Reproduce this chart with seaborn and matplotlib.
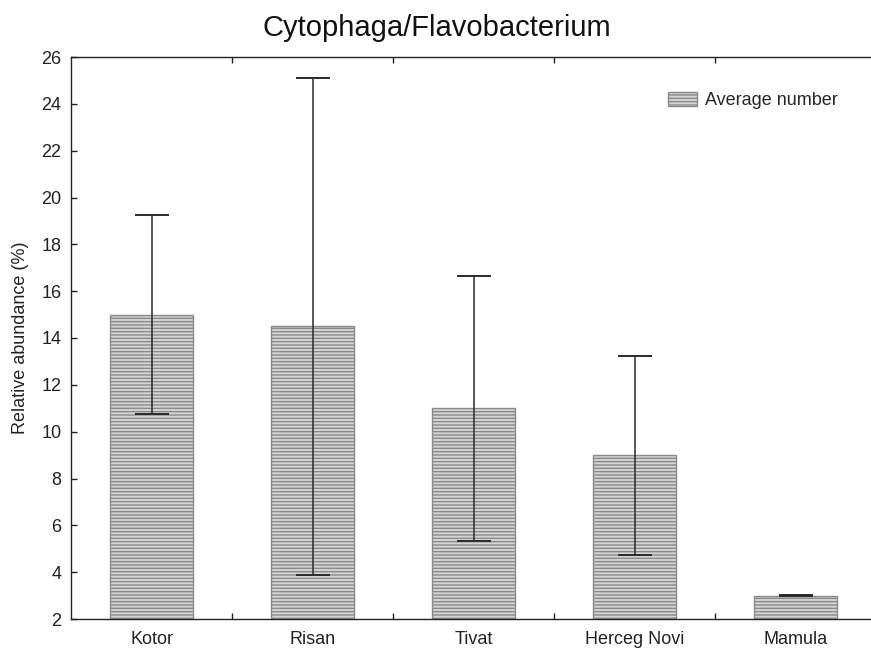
import matplotlib
matplotlib.use("Agg")
import matplotlib.pyplot as plt
import seaborn as sns
import pandas as pd
import numpy as np
from matplotlib.patches import Patch

sites = ["Kotor", "Risan", "Tivat", "Herceg Novi", "Mamula"]
means = [15.0, 14.5, 11.0, 9.0, 3.0]
errors = [4.25, 10.6, 5.65, 4.25, 0.02]
yticks = [2, 4, 6, 8, 10, 12, 14, 16, 18, 20, 22, 24, 26]

sns.set_theme(style="white")
plt.rcParams['font.family'] = ['Liberation Sans', 'DejaVu Sans']
plt.rcParams['hatch.linewidth'] = 1.0

df = pd.DataFrame({"site": sites, "mean": means, "err": errors})

fig = plt.figure(figsize=(8.71, 6.48), dpi=100)
ax = fig.add_axes([71/871, 29/648, 805/871, 562/648])

sns.barplot(data=df, x="site", y="mean", ax=ax, color="#d4d4d4", width=0.51,
            errorbar=None, edgecolor="#8a8a8a", linewidth=1.0, hatch="-----")
for p in ax.patches:
    y0 = 2
    h = p.get_height()
    p.set_y(y0)
    p.set_height(h - y0)
    p.set_hatch("-----")

ax.errorbar(np.arange(len(sites)), df["mean"], yerr=df["err"], fmt="none",
            ecolor="#2a2a2a", elinewidth=1.1, capsize=12, capthick=1.4)

ax.set_ylim(2, 26)
ax.set_xlim(-0.5, len(sites) - 0.5)
ax.set_yticks(yticks)
ax.set_yticklabels([str(v) for v in yticks])
ax.set_xticks(range(len(sites)))
ax.set_xticklabels(sites)
ax.set_xticks(np.arange(0.5, len(sites) - 0.5, 1.0), minor=True)
ax.tick_params(axis="x", which="major", length=0, labelsize=13, pad=9, colors="#222222")
ax.tick_params(axis="x", which="minor", direction="in", length=4, width=1,
               color="#222222", top=True, bottom=True)
ax.tick_params(axis="y", direction="in", length=4, width=1, labelsize=13, left=True,
               pad=7, color="#222222", labelcolor="#222222")
for s in ax.spines.values():
    s.set_color("#222222")
    s.set_linewidth(1.0)
ax.set_xlabel("")
ax.set_ylabel("Relative abundance (%)", fontsize=13, color="#222222", labelpad=9)

fig.suptitle("Cytophaga/Flavobacterium", fontsize=21, x=0.502, y=0.979, color="#111111")

handle = Patch(facecolor="#d4d4d4", edgecolor="#8a8a8a", hatch="-----", label="Average number")
ax.legend(handles=[handle], loc="upper left", bbox_to_anchor=(652/871, 1 - 76/648),
          bbox_transform=fig.transFigure, frameon=False, fontsize=13,
          handlelength=1.6, handleheight=0.8, handletextpad=0.45)

fig.savefig("out.png", dpi=100)
